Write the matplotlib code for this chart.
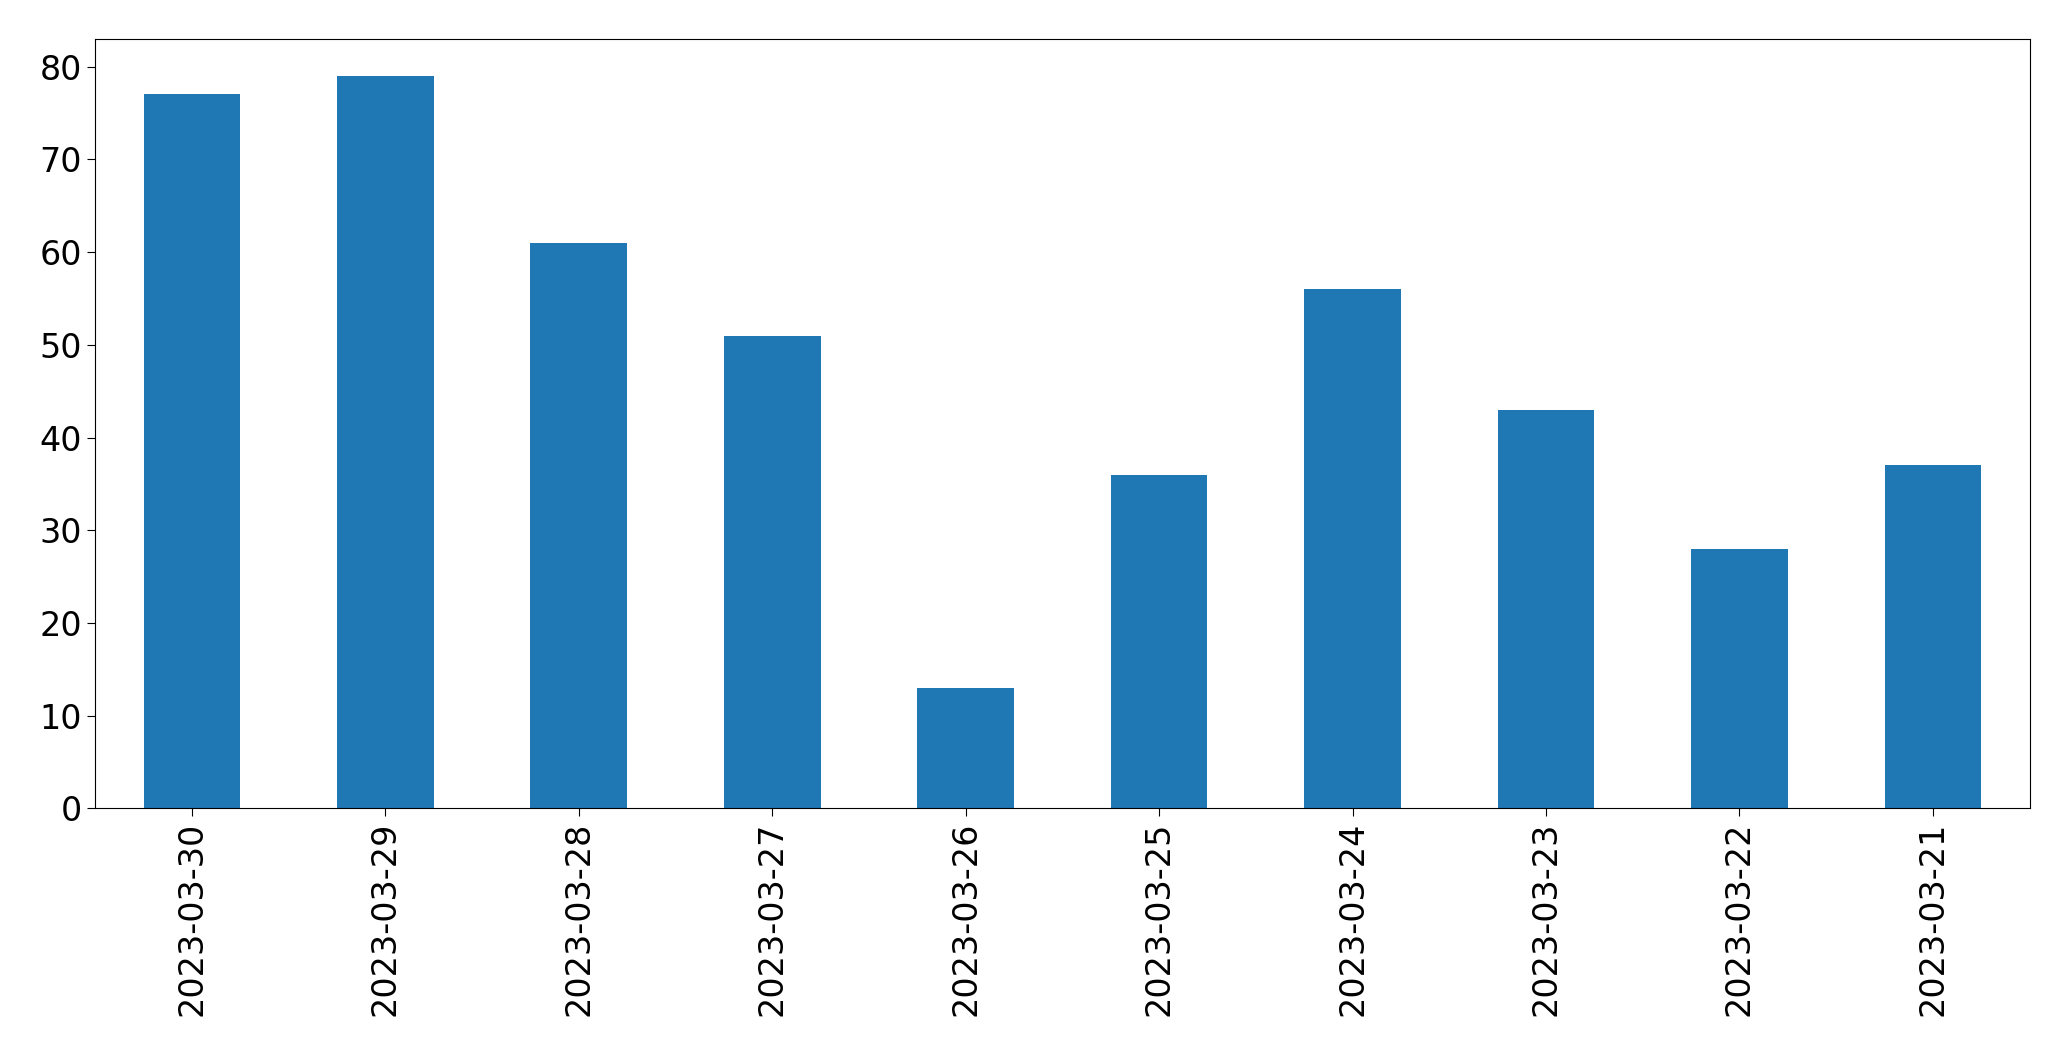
import matplotlib
matplotlib.use('Agg')
import matplotlib.pyplot as plt
import numpy as np

# daily counts, newest first
dates = ['2023-03-30', '2023-03-29', '2023-03-28', '2023-03-27', '2023-03-26',
         '2023-03-25', '2023-03-24', '2023-03-23', '2023-03-22', '2023-03-21']
counts = [77, 79, 61, 51, 13, 36, 56, 43, 28, 37]

fig, ax = plt.subplots(figsize=(20.71, 10.61), dpi=100)
x = np.arange(len(dates))
ax.bar(x, counts, width=0.5, color='#1f77b4')
ax.set_xticks(x)
ax.set_xticklabels(dates, rotation=90)
ax.set_xlim(-0.5, len(dates) - 0.5)
ax.tick_params(labelsize=24, length=6)
plt.subplots_adjust(left=0.046, right=0.98, top=0.963, bottom=0.238)
plt.savefig('out.png')
